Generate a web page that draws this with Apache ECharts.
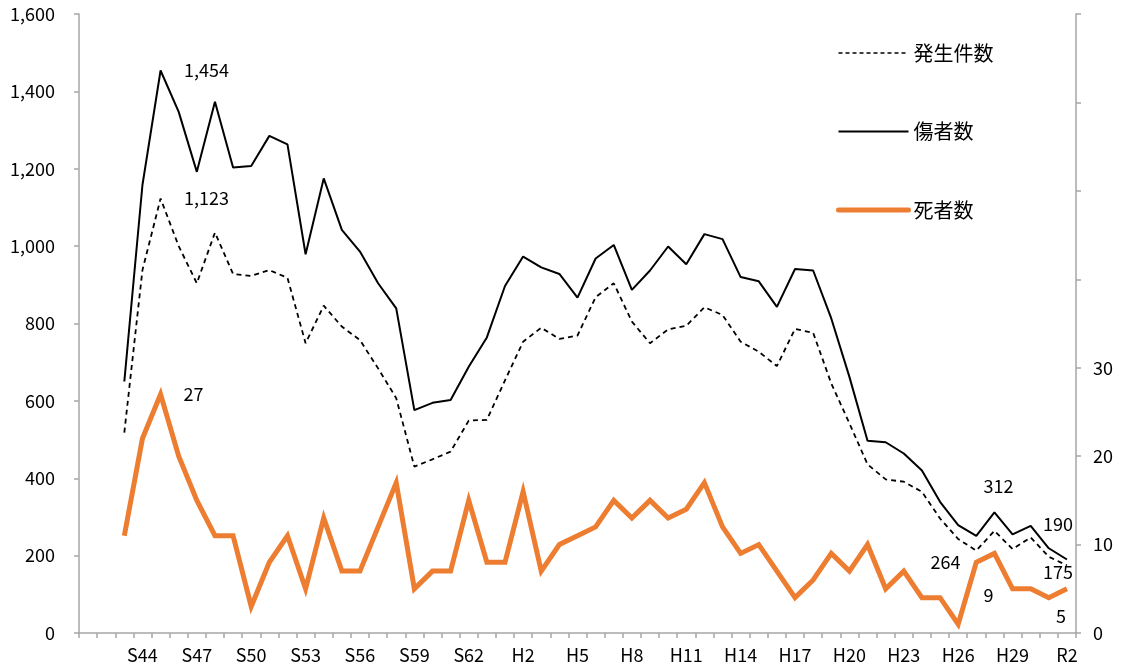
<!DOCTYPE html>
<html>
<head>
<meta charset="utf-8">
<script src="https://cdn.jsdelivr.net/npm/echarts@6/dist/echarts.min.js"></script>
<style>
html,body{margin:0;padding:0;background:#fff;}
#c{width:1123px;height:668px;}
</style>
</head>
<body>
<div id="c"></div>
<script>
// Categories (fiscal years, Showa / Heisei / Reiwa)
const categories = [
  'S41','S42','S43','S44','S45','S46','S47','S48','S49','S50',
  'S51','S52','S53','S54','S55','S56','S57','S58','S59','S60',
  'S61','S62','S63','H1','H2','H3','H4','H5','H6','H7',
  'H8','H9','H10','H11','H12','H13','H14','H15','H16','H17',
  'H18','H19','H20','H21','H22','H23','H24','H25','H26','H27',
  'H28','H29','H30','R1','R2'
];
// 発生件数 (left axis)
const incidents = [
  null,null,518,938,1123,1000,904,1035,928,923,
  938,918,749,846,792,757,684,607,430,449,
  469,549,551,653,753,789,760,769,868,904,
  805,749,785,794,842,822,753,727,690,786,
  776,645,542,436,397,391,365,296,243,213,
  264,217,247,197,175
];
// 傷者数 (left axis)
const injured = [
  null,null,650,1158,1454,1347,1192,1373,1203,1207,
  1285,1263,979,1175,1042,986,904,839,576,595,
  602,688,764,897,973,945,928,867,968,1003,
  887,937,999,953,1031,1018,920,909,843,941,
  937,813,662,497,493,464,420,339,279,251,
  312,255,277,219,190
];
// 死者数 (right axis)
const deaths = [
  null,null,11,22,27,20,15,11,11,3,
  8,11,5,13,7,7,12,17,5,7,
  7,15,8,8,16,7,10,11,12,15,
  13,15,13,14,17,12,9,10,7,4,
  6,9,7,10,5,7,4,4,1,8,
  9,5,5,4,5
];
// Axis tick values
const leftTicks = [0,200,400,600,800,1000,1200,1400,1600];
const rightTicks = [0,10,20,30,40,50,60,70];
const rightLabelled = [0,10,20,30];

// which points carry a value label, with label offsets (style only)
const labelOffsets = {
  incidents: {4:[46,0], 50:[-49,31], 54:[-9,7]},
  injured:   {4:[46,0], 50:[4,-26], 54:[-9,-35]},
  deaths:    {4:[33,0], 50:[-6,42], 54:[-6,27]}
};

const FONT = 'Noto Sans CJK JP';
function fmt(v){ return String(v).replace(/\B(?=(\d{3})+(?!\d))/g, ','); }

function buildData(arr, key){
  const offs = labelOffsets[key];
  return arr.map((v,i)=>{
    if (offs[i]) {
      return {
        value: v,
        label: {
          show: true, position: 'inside', offset: offs[i],
          formatter: p => fmt(p.value), color: '#000',
          fontSize: 18, fontFamily: FONT
        }
      };
    }
    return v;
  });
}

const chart = echarts.init(document.getElementById('c'), null, {renderer:'canvas'});
const axisGray = '#a6a6a6';
chart.setOption({
  animation: false,
  backgroundColor: '#fff',
  textStyle: {fontFamily: FONT},
  grid: {left: 79, right: 47, top: 14, bottom: 35, containLabel: false},
  legend: {
    orient: 'vertical',
    left: 831, top: 38,
    itemWidth: 70, itemHeight: 20, itemGap: 58.5,
    textStyle: {fontSize: 20, color: '#000', fontFamily: FONT, lineHeight: 20},
    data: [
      {name: '発生件数', itemStyle: {opacity: 0}, lineStyle: {width: 1.5, type: [4,3]}},
      {name: '傷者数', itemStyle: {opacity: 0}, lineStyle: {width: 2}},
      {name: '死者数', itemStyle: {opacity: 0}, lineStyle: {width: 5, cap: 'round'}}
    ]
  },
  xAxis: {
    type: 'category',
    data: categories,
    boundaryGap: true,
    axisLine: {lineStyle: {color: axisGray, width: 1.5}},
    axisTick: {show: true, interval: 0, length: 5, lineStyle: {color: axisGray, width: 1.5}},
    axisLabel: {
      interval: (idx) => idx > 0 && idx % 3 === 0,
      color: '#000', fontSize: 18, fontFamily: FONT, margin: 13
    },
    splitLine: {show: false}
  },
  yAxis: [
    {
      type: 'value', min: leftTicks[0], max: leftTicks[leftTicks.length-1], interval: 200,
      axisLine: {show: true, lineStyle: {color: axisGray, width: 1.5}},
      axisTick: {show: true, length: 5, lineStyle: {color: axisGray, width: 1.5}},
      axisLabel: {color: '#000', fontSize: 18, fontFamily: FONT, margin: 24, formatter: v => fmt(v)},
      splitLine: {show: false}
    },
    {
      type: 'value', min: rightTicks[0], max: rightTicks[rightTicks.length-1], interval: 10,
      position: 'right',
      axisLine: {show: true, lineStyle: {color: axisGray, width: 1.5}},
      axisTick: {show: true, length: 5, lineStyle: {color: axisGray, width: 1.5}},
      axisLabel: {color: '#000', fontSize: 18, fontFamily: FONT, margin: 17,
        formatter: v => rightLabelled.indexOf(v) >= 0 ? String(v) : ''},
      splitLine: {show: false}
    }
  ],
  series: [
    {
      name: '発生件数', type: 'line', yAxisIndex: 0,
      data: buildData(incidents, 'incidents'),
      symbol: 'circle', symbolSize: 0.01, showSymbol: true,
      itemStyle: {color: '#000'},
      lineStyle: {color: '#000', width: 1.8, type: [5,4]},
      connectNulls: false, z: 2
    },
    {
      name: '傷者数', type: 'line', yAxisIndex: 0,
      data: buildData(injured, 'injured'),
      symbol: 'circle', symbolSize: 0.01, showSymbol: true,
      itemStyle: {color: '#000'},
      lineStyle: {color: '#000', width: 2}, z: 3
    },
    {
      name: '死者数', type: 'line', yAxisIndex: 1,
      data: buildData(deaths, 'deaths'),
      symbol: 'circle', symbolSize: 0.01, showSymbol: true,
      itemStyle: {color: '#ED7D31'},
      lineStyle: {color: '#ED7D31', width: 5, join: 'miter'}, z: 4
    }
  ]
});
</script>
</body>
</html>
